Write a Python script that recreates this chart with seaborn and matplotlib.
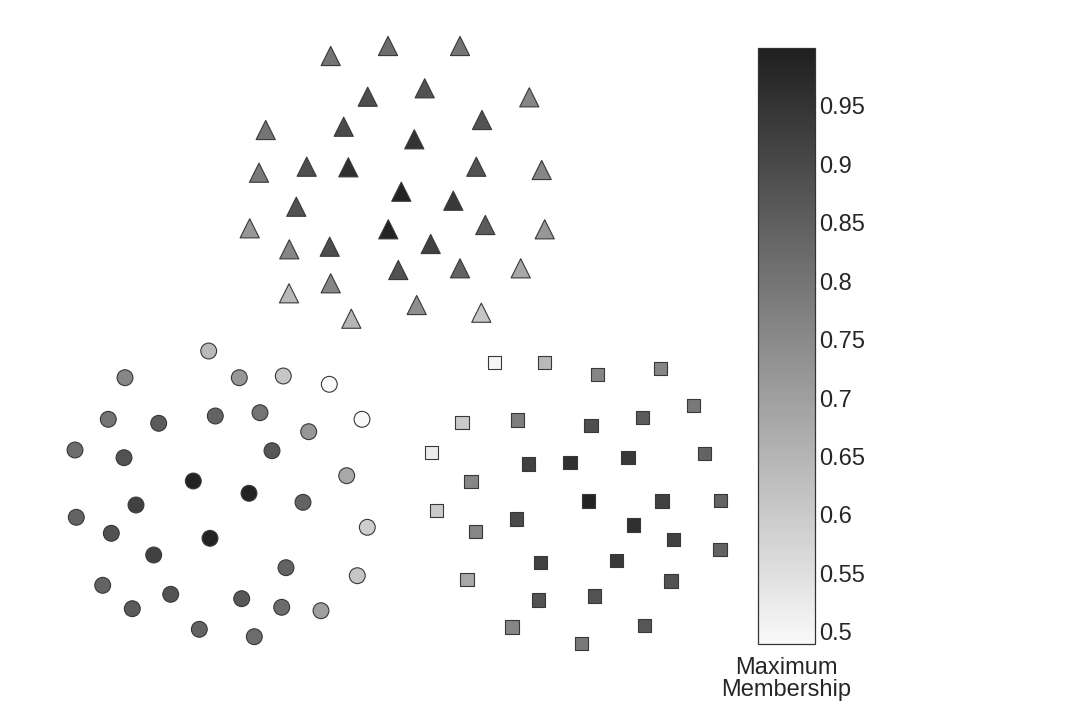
import numpy as np
import pandas as pd
import matplotlib
matplotlib.use("Agg")
import matplotlib.pyplot as plt
import seaborn as sns
from matplotlib.colors import LinearSegmentedColormap, Normalize
from matplotlib.cm import ScalarMappable

# Кластер 1 (трикутники)
tri_x = [330.7, 388.0, 460.0, 367.7, 424.7, 529.3, 265.7, 343.7, 482.0, 414.3, 259.0,
         306.7, 348.3, 476.3, 541.7, 401.3, 453.3, 296.3, 249.7, 388.3, 485.3, 544.7,
         289.3, 329.7, 430.7, 398.3, 460.0, 520.7, 289.0, 330.7, 416.7, 481.3, 351.3]
tri_y = [56.0, 46.0, 46.0, 96.7, 88.3, 97.3, 130.0, 126.7, 120.0, 139.3, 172.7,
         166.7, 167.3, 166.7, 170.0, 191.7, 200.7, 206.7, 228.3, 229.3, 225.0, 229.3,
         249.3, 246.7, 244.0, 270.0, 268.3, 268.3, 293.3, 283.3, 305.0, 312.7, 318.7]
tri_m = [0.80, 0.82, 0.80, 0.89, 0.88, 0.76, 0.80, 0.90, 0.88, 0.95, 0.79,
         0.89, 0.96, 0.88, 0.76, 0.99, 0.94, 0.88, 0.72, 0.99, 0.86, 0.72,
         0.76, 0.89, 0.92, 0.88, 0.84, 0.68, 0.64, 0.76, 0.74, 0.61, 0.65]

# Кластер 2 (кола)
circ_x = [208.7, 125.0, 239.3, 283.3, 329.3, 108.3, 158.7, 215.3, 260.0, 308.7, 362.0,
          75.0, 124.0, 272.0, 193.3, 249.0, 346.7, 136.0, 303.0, 76.3, 111.3, 367.3,
          210.0, 153.7, 286.0, 357.3, 102.7, 170.7, 132.3, 241.7, 281.7, 321.0, 199.3, 254.3]
circ_y = [351.0, 377.7, 377.7, 376.0, 384.3, 419.3, 423.3, 416.0, 412.7, 431.7, 419.3,
          450.0, 457.7, 450.7, 481.0, 493.3, 475.7, 505.0, 502.3, 517.3, 533.3, 527.3,
          538.3, 555.0, 567.7, 575.7, 585.3, 594.3, 608.7, 598.7, 607.3, 610.7, 629.3, 636.7]
circ_m = [0.64, 0.76, 0.72, 0.61, 0.49, 0.80, 0.86, 0.84, 0.80, 0.72, 0.49,
          0.82, 0.88, 0.87, 0.99, 0.99, 0.68, 0.92, 0.84, 0.84, 0.88, 0.59,
          0.99, 0.92, 0.84, 0.61, 0.84, 0.88, 0.86, 0.87, 0.82, 0.70, 0.84, 0.82]

# Кластер 3 (квадрати)
sq_x = [494.3, 544.7, 597.7, 660.3, 693.7, 462.0, 517.3, 591.0, 642.3, 431.3, 528.3,
        570.0, 628.0, 704.7, 471.0, 436.7, 588.3, 662.0, 720.3, 516.7, 475.3, 633.3,
        673.7, 720.0, 540.3, 616.7, 467.0, 671.0, 538.7, 594.7, 512.0, 644.3, 581.7]
sq_y = [362.7, 362.7, 374.3, 368.7, 405.3, 422.3, 420.0, 425.3, 417.3, 452.3, 464.0,
        462.3, 457.3, 453.7, 481.7, 510.3, 501.0, 501.0, 500.7, 519.0, 531.3, 525.0,
        539.7, 549.7, 562.7, 560.7, 579.7, 581.0, 600.0, 596.0, 627.0, 625.7, 643.7]
sq_m = [0.50, 0.64, 0.76, 0.76, 0.79, 0.60, 0.78, 0.89, 0.86, 0.52, 0.92,
        0.96, 0.94, 0.84, 0.76, 0.60, 0.99, 0.92, 0.84, 0.90, 0.76, 0.96,
        0.92, 0.84, 0.92, 0.94, 0.68, 0.88, 0.88, 0.88, 0.76, 0.87, 0.79]

tick_vals = [0.5, 0.55, 0.6, 0.65, 0.7, 0.75, 0.8, 0.85, 0.9, 0.95]
tick_labels = ["0.5", "0.55", "0.6", "0.65", "0.7", "0.75", "0.8", "0.85", "0.9", "0.95"]

df = pd.DataFrame({
    "x": tri_x + circ_x + sq_x,
    "y": tri_y + circ_y + sq_y,
    "membership": tri_m + circ_m + sq_m,
    "cluster": ["A"] * len(tri_x) + ["B"] * len(circ_x) + ["C"] * len(sq_x),
})

sns.set_style("white")
plt.rcParams["font.family"] = ["Liberation Sans", "DejaVu Sans"]

cmap = LinearSegmentedColormap.from_list("mem", ["#f9f9f9", "#1f1f1f"])
norm = Normalize(vmin=0.49, vmax=1.0)

fig = plt.figure(figsize=(10.78, 7.24), dpi=100)
ax = fig.add_axes([0, 0, 1, 1])
sns.scatterplot(data=df, x="x", y="y", hue="membership", palette=cmap, hue_norm=norm,
                style="cluster", markers={"A": "^", "B": "o", "C": "s"},
                size="cluster", sizes={"A": 190, "B": 130, "C": 88},
                edgecolor="#383838", linewidth=0.8, legend=False, ax=ax)
ax.set_xlim(0, 1078)
ax.set_ylim(724, 0)
ax.axis("off")

cax = fig.add_axes([758 / 1078, 1 - 643.5 / 724, 57 / 1078, (643.5 - 47.5) / 724])
cb = fig.colorbar(ScalarMappable(norm=norm, cmap=cmap), cax=cax)
cb.set_ticks(tick_vals)
cb.set_ticklabels(tick_labels)
cax.yaxis.set_ticks_position("both")
cax.yaxis.set_label_position("right")
cax.tick_params(axis="y", which="major", direction="in", length=5, width=1.0,
                color="#555555", left=True, right=True, labelleft=False,
                labelright=True, labelsize=17, pad=3)
cax.tick_params(axis="y", which="minor", length=0)
cb.outline.set_edgecolor("#333333")
cb.outline.set_linewidth(0.9)
cax.text(0.5, -0.022, "Maximum\nMembership", transform=cax.transAxes,
         ha="center", va="top", fontsize=17, linespacing=1.05)

plt.savefig("out.png", dpi=100)
